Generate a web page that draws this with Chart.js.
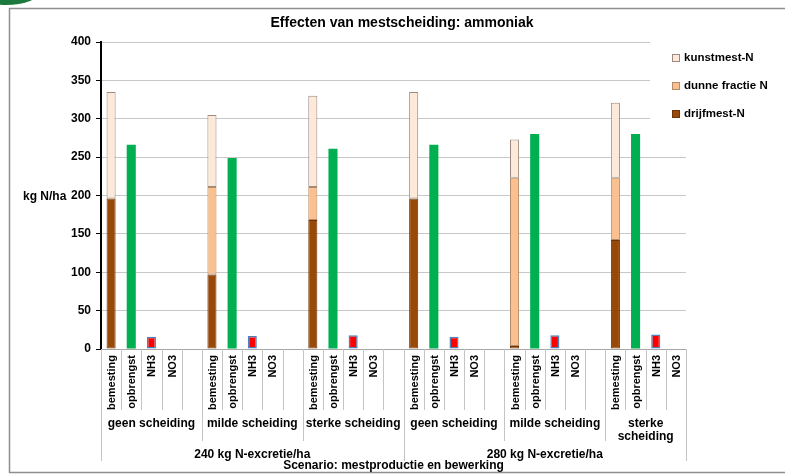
<!DOCTYPE html>
<html>
<head>
<meta charset="utf-8">
<script src="https://cdn.jsdelivr.net/npm/chart.js@4/dist/chart.umd.min.js"></script>
<style>
  html, body { margin: 0; padding: 0; background: #fff; }
  canvas { display: block; }
</style>
</head>
<body>
<canvas id="c" width="785" height="475"></canvas>
<script>
// Category hierarchy: excretion level > separation scenario > item
const sections = ['240 kg N-excretie/ha', '280 kg N-excretie/ha'];
const groups = [['geen scheiding'], ['milde scheiding'], ['sterke scheiding'],
                ['geen scheiding'], ['milde scheiding'], ['sterke', 'scheiding']];
const items = ['bemesting', 'opbrengst', 'NH3', 'NO3'];

// Values per scenario (kg N/ha)
const drijfmest    = [196, 97, 168, 196, 4, 142];
const dunneFractie = [0, 114, 43, 0, 219, 81];
const kunstmest    = [139, 94, 119, 139, 50, 98];
const opbrengst    = [266, 249, 261, 266, 280, 280];
const nh3          = [16, 17, 18, 16, 18, 19];
const no3          = [0, 0, 0, 0, 0, 0];

const yTicks = [0, 50, 100, 150, 200, 250, 300, 350, 400];

const title = 'Effecten van mestscheiding: ammoniak';
const yTitle = 'kg N/ha';
const xTitle = 'Scenario: mestproductie en bewerking';

// One slot per item, plus an empty spacer slot between scenarios
const SLOTS = items.length + 1;
const labels = [];
groups.forEach((g, gi) => {
  items.forEach(it => labels.push(it));
  if (gi < groups.length - 1) labels.push('');
});
function toSlots(vals, itemIdx) {
  const arr = labels.map(() => null);
  vals.forEach((v, gi) => { arr[gi * SLOTS + itemIdx] = v; });
  return arr;
}

const FONT = '"Liberation Sans", Arial, sans-serif';

const datasets = [
  { label: 'drijfmest-N', data: toSlots(drijfmest, 0), backgroundColor: '#984807', borderColor: '#6e3405', borderWidth: 1, inLegend: true },
  { label: 'dunne fractie N', data: toSlots(dunneFractie, 0), backgroundColor: '#fac08f', borderColor: '#b58a68', borderWidth: 1, inLegend: true },
  { label: 'kunstmest-N', data: toSlots(kunstmest, 0), backgroundColor: '#fde9d9', borderColor: '#9c8a80', borderWidth: 1, inLegend: true },
  { label: 'opbrengst', data: toSlots(opbrengst, 1), backgroundColor: '#00b050', borderColor: '#00a04a', borderWidth: 0 },
  { label: 'NH3', data: toSlots(nh3, 2), backgroundColor: '#ff0000', borderColor: '#4f81bd', borderWidth: 1.5 },
  { label: 'NO3', data: toSlots(no3, 3), backgroundColor: '#4f81bd', borderWidth: 0 }
];
datasets.forEach(d => { d.stack = 'n'; d.borderSkipped = false; d.categoryPercentage = 1; d.barPercentage = 0.45; });

const decorPlugin = {
  id: 'decor',
  beforeDraw(chart) {
    const ctx = chart.ctx;
    ctx.save();
    ctx.fillStyle = '#fff';
    ctx.fillRect(0, 0, chart.width, chart.height);
    // corner badge
    ctx.fillStyle = '#1b7a3c';
    ctx.beginPath();
    ctx.ellipse(6, -9, 34, 14, 0, 0, Math.PI * 2);
    ctx.fill();
    // outer frame
    ctx.strokeStyle = '#8f8f8f';
    ctx.lineWidth = 1.5;
    ctx.beginPath();
    ctx.moveTo(chart.width + 2, 8.5);
    ctx.lineTo(9.5, 8.5);
    ctx.lineTo(9.5, 472.5);
    ctx.lineTo(chart.width + 2, 472.5);
    ctx.stroke();
    ctx.restore();
  },
  afterDraw(chart) {
    const ctx = chart.ctx;
    const xs = chart.scales.x;
    const area = chart.chartArea;
    const w = xs.getPixelForValue(1) - xs.getPixelForValue(0);
    const left = xs.getPixelForValue(0) - w / 2;
    const n = labels.length;
    const perSection = groups.length / sections.length * SLOTS;
    ctx.save();

    // title
    ctx.fillStyle = '#000';
    ctx.font = 'bold 14px ' + FONT;
    ctx.textAlign = 'center';
    ctx.textBaseline = 'middle';
    ctx.fillText(title, 402, 23);

    // y-axis title
    ctx.font = 'bold 12px ' + FONT;
    ctx.textAlign = 'left';
    ctx.fillText(yTitle, 23, 197);

    // category separators
    ctx.strokeStyle = '#c4c4c4';
    ctx.lineWidth = 1;
    for (let i = 0; i <= n; i++) {
      const x = Math.round(left + i * w) + 0.5;
      let y2 = 410;
      if (i === 0 || i === n || i === perSection) y2 = 461;
      else if (i % SLOTS === 0) y2 = 441;
      ctx.beginPath();
      ctx.moveTo(x, area.bottom);
      ctx.lineTo(x, y2);
      ctx.stroke();
    }

    // item labels (rotated)
    ctx.fillStyle = '#000';
    ctx.font = 'bold 11px ' + FONT;
    ctx.textAlign = 'right';
    ctx.textBaseline = 'middle';
    labels.forEach((lab, i) => {
      if (!lab) return;
      const x = xs.getPixelForValue(i) + 1;
      ctx.save();
      ctx.translate(x, 355);
      ctx.rotate(-Math.PI / 2);
      ctx.fillText(lab, 0, 0);
      ctx.restore();
    });

    // scenario labels
    ctx.font = 'bold 12px ' + FONT;
    ctx.textAlign = 'center';
    groups.forEach((g, gi) => {
      const first = gi * SLOTS;
      const last = Math.min(first + SLOTS, n);
      const cx = left + (first + last) / 2 * w;
      g.forEach((line, li) => ctx.fillText(line, cx, 424 + li * 13));
    });

    // excretion level labels
    sections.forEach((s, si) => {
      const first = si * perSection;
      const last = Math.min(first + perSection, n);
      const cx = left + (first + last) / 2 * w;
      ctx.fillText(s, cx, 455);
    });

    // axis title
    ctx.fillText(xTitle, (area.left + area.right) / 2, 466);

    // legend (covers the grid on its right)
    ctx.fillStyle = '#fff';
    ctx.fillRect(650, 36, 60, 104);
    const legendItems = datasets.filter(d => d.inLegend).reverse();
    ctx.font = 'bold 11.5px ' + FONT;
    ctx.textAlign = 'left';
    legendItems.forEach((d, k) => {
      const cy = 58 + k * 28;
      ctx.fillStyle = d.backgroundColor;
      ctx.fillRect(672, cy - 4, 8, 8);
      ctx.strokeStyle = d.borderColor;
      ctx.lineWidth = 1;
      ctx.strokeRect(672.5, cy - 3.5, 7, 7);
      ctx.fillStyle = '#000';
      ctx.fillText(d.label, 684, cy);
    });
    ctx.restore();
  }
};

new Chart(document.getElementById('c'), {
  type: 'bar',
  data: { labels, datasets },
  options: {
    responsive: false,
    devicePixelRatio: 1,
    animation: false,
    layout: { padding: { left: 9, right: 99, top: 42, bottom: 0 } },
    plugins: { legend: { display: false }, title: { display: false }, tooltip: { enabled: false } },
    scales: {
      x: {
        stacked: true,
        grid: { display: false },
        ticks: { display: false },
        border: { display: true, color: '#a6a6a6', width: 1 },
        afterFit(scale) { scale.height = 126; }
      },
      y: {
        stacked: true,
        min: yTicks[0],
        max: yTicks[yTicks.length - 1],
        afterBuildTicks(scale) { scale.ticks = yTicks.map(v => ({ value: v })); },
        ticks: { color: '#000', font: { family: FONT, size: 12, weight: 'bold' }, padding: 5 },
        grid: { color: '#c8c8c8', lineWidth: 1, tickColor: '#000', tickLength: 5 },
        border: { display: true, color: '#000', width: 2 },
        afterFit(scale) { scale.width = 92; }
      }
    }
  },
  plugins: [decorPlugin]
});
</script>
</body>
</html>
